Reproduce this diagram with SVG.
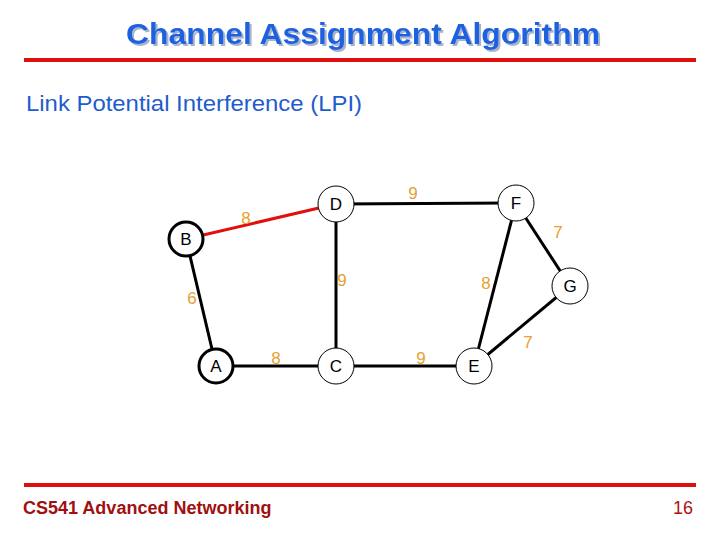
<svg xmlns="http://www.w3.org/2000/svg" width="720" height="540" viewBox="0 0 720 540">
<defs>
<filter id="sh" x="-5%" y="-30%" width="110%" height="160%">
<feOffset in="SourceAlpha" dx="2" dy="2" result="o"/>
<feFlood flood-color="#a8b4c8"/>
<feComposite in2="o" operator="in" result="s"/>
<feMerge><feMergeNode in="s"/><feMergeNode in="SourceGraphic"/></feMerge>
</filter>
</defs>
<style>
.t{font-family:"Liberation Sans",Arial,sans-serif}
.e{stroke:#000;stroke-width:3;fill:none}
.n{fill:#fff;stroke:#000;stroke-width:1}
.nb{fill:#fff;stroke:#000;stroke-width:3}
.nl{font-family:"Liberation Sans",Arial,sans-serif;font-size:17px;fill:#000;text-anchor:middle}
.w{font-family:"Liberation Sans",Arial,sans-serif;font-size:17px;fill:#e8a030;text-anchor:middle}
</style>
<rect width="720" height="540" fill="#fff"/>
<text class="t" x="126" y="44" font-size="29" font-weight="bold" fill="#1f62e0" textLength="474" lengthAdjust="spacingAndGlyphs" filter="url(#sh)">Channel Assignment Algorithm</text>
<rect x="24" y="58" width="672" height="4" fill="#e01010"/>
<text class="t" x="26" y="111" font-size="22" fill="#1f5ccc" textLength="336" lengthAdjust="spacingAndGlyphs">Link Potential Interference (LPI)</text>
<g id="connectors">
<line x1="186" y1="239" x2="336" y2="204" stroke="#e01010" stroke-width="3"/>
<line class="e" x1="336" y1="204" x2="516" y2="203"/>
<line class="e" x1="336" y1="204" x2="336" y2="366"/>
<line class="e" x1="186" y1="239" x2="216" y2="366"/>
<line class="e" x1="216" y1="366" x2="336" y2="366"/>
<line class="e" x1="336" y1="366" x2="474" y2="366"/>
<line class="e" x1="516" y1="203" x2="474" y2="366"/>
<line class="e" x1="516" y1="203" x2="570" y2="286"/>
<line class="e" x1="570" y1="286" x2="474" y2="366"/>
<text class="w" x="246" y="224">8</text>
<text class="w" x="413" y="199">9</text>
<text class="w" x="558" y="238">7</text>
<text class="w" x="342" y="286">9</text>
<text class="w" x="486" y="289">8</text>
<text class="w" x="192" y="304">6</text>
<text class="w" x="276" y="364">8</text>
<text class="w" x="421" y="364">9</text>
<text class="w" x="528" y="348">7</text>
</g>
<g id="B"><circle class="nb" cx="186" cy="239" r="17"/><text class="nl" x="186" y="245">B</text></g>
<g id="D"><circle class="n" cx="336" cy="204" r="18"/><text class="nl" x="336" y="210">D</text></g>
<g id="F"><circle class="n" cx="516" cy="203" r="18"/><text class="nl" x="516" y="209">F</text></g>
<g id="G"><circle class="n" cx="570" cy="286" r="18"/><text class="nl" x="570" y="292">G</text></g>
<g id="A"><circle class="nb" cx="216" cy="366" r="17"/><text class="nl" x="216" y="372">A</text></g>
<g id="C"><circle class="n" cx="336" cy="366" r="18"/><text class="nl" x="336" y="372">C</text></g>
<g id="E"><circle class="n" cx="474" cy="366" r="18"/><text class="nl" x="474" y="372">E</text></g>
<rect x="24" y="483" width="672" height="4" fill="#e01010"/>
<text class="t" x="23" y="514" font-size="18" font-weight="bold" fill="#a01010">CS541 Advanced Networking</text>
<text class="t" x="693" y="514" font-size="18" fill="#b01010" text-anchor="end">16</text>
</svg>
